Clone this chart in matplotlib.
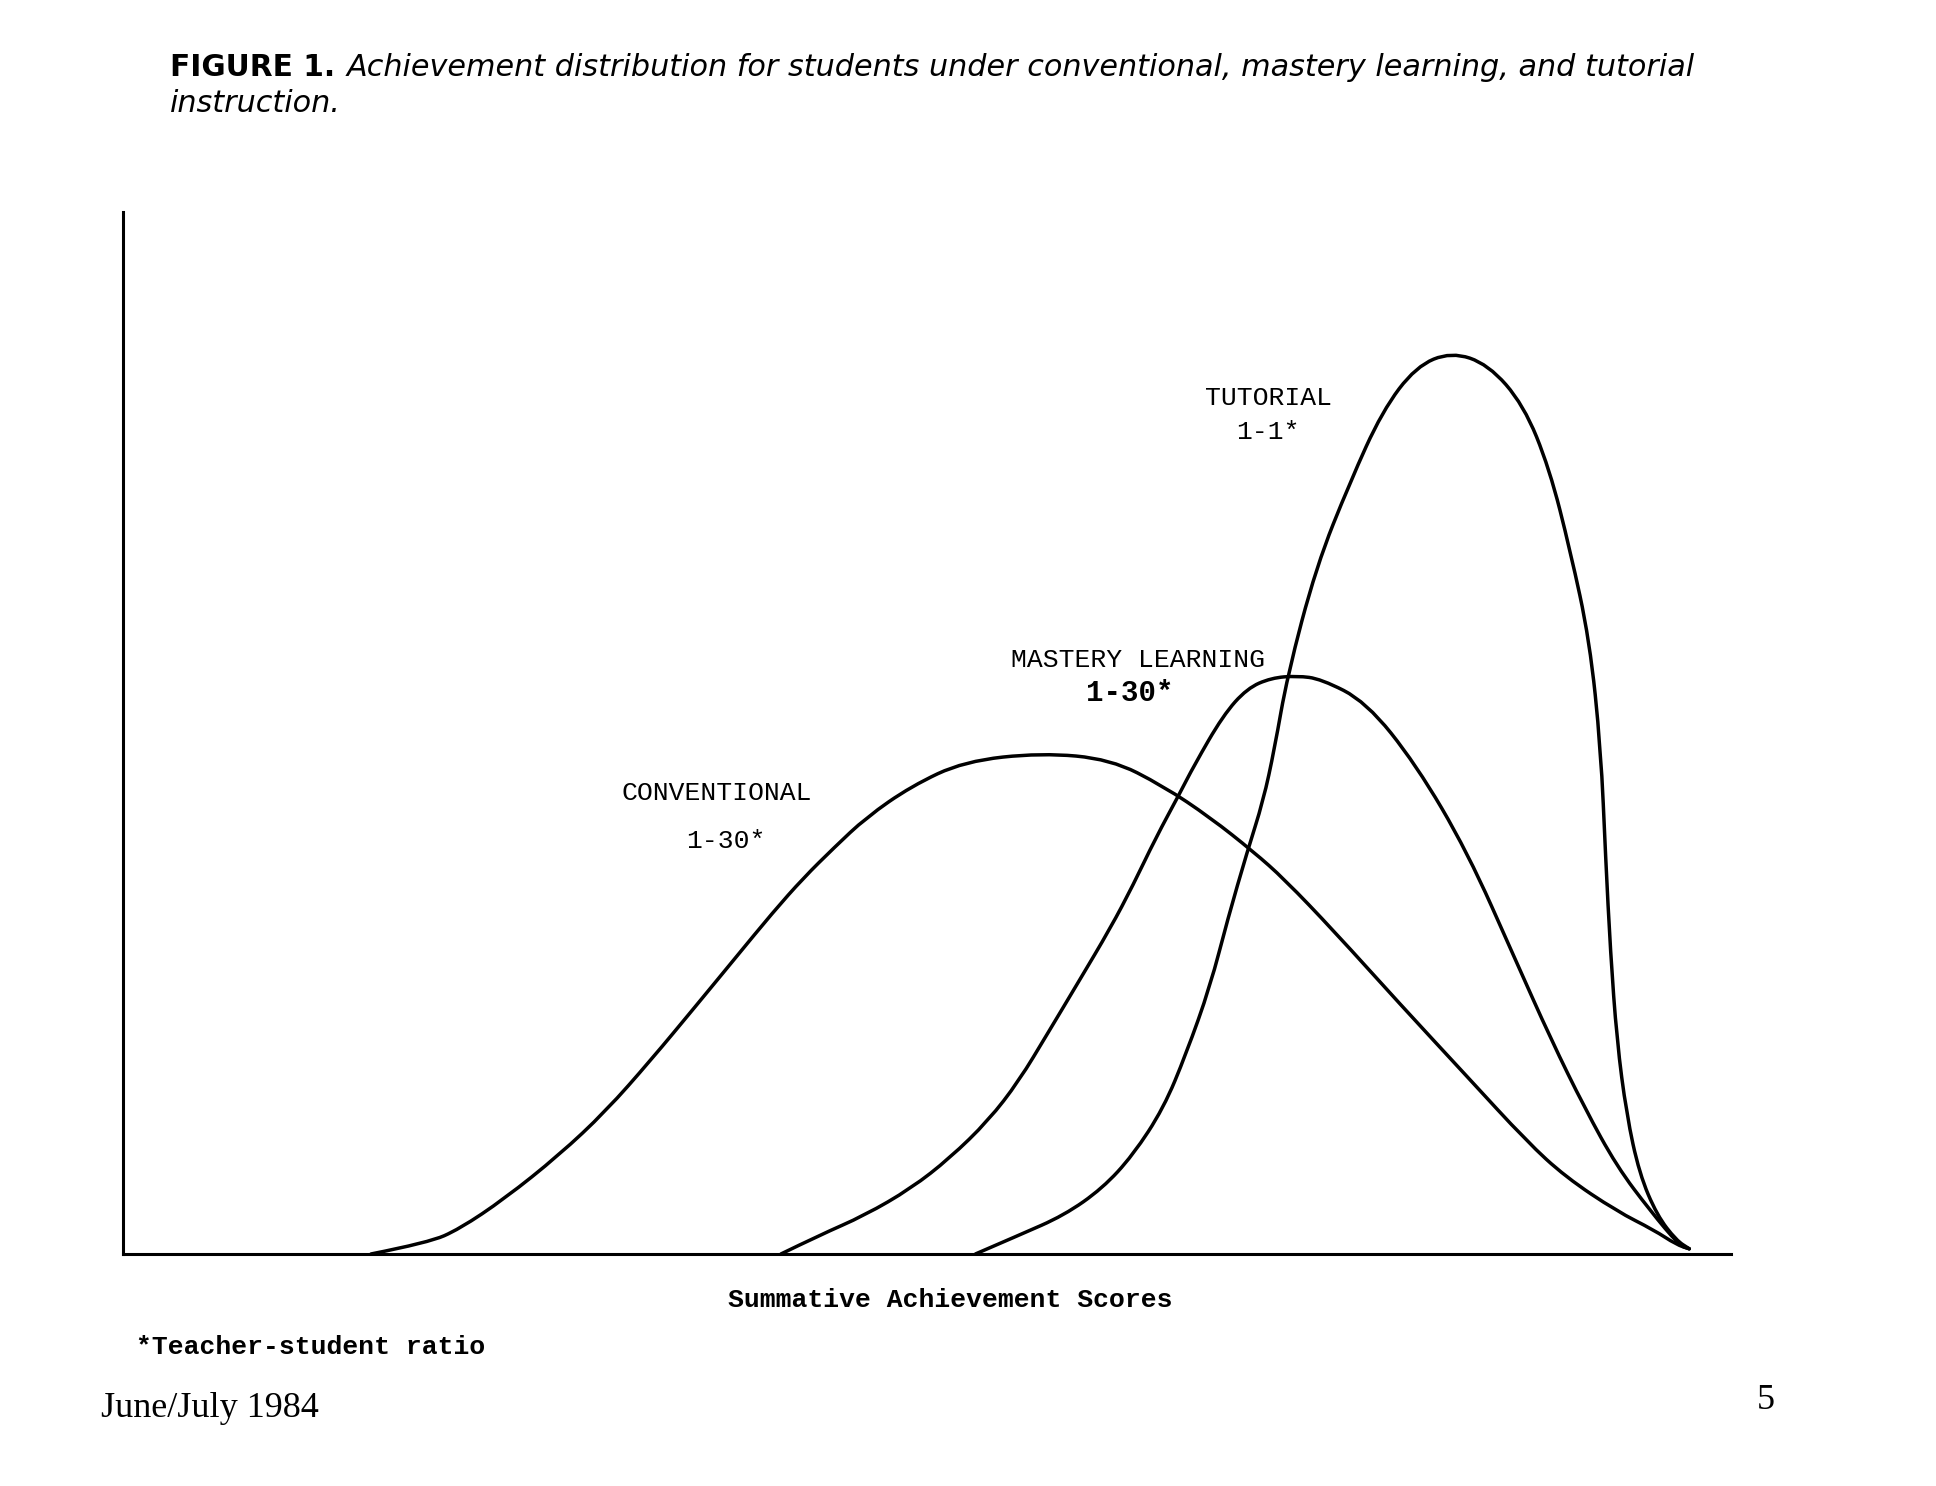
import numpy as np
import matplotlib.pyplot as plt
from matplotlib.path import Path
from matplotlib.patches import PathPatch

# score (0-100 along the axis) and relative frequency (0-100)
conv_x = [15.4, 19.0, 20.9, 23.7, 27.1, 30.0, 32.8, 35.6, 38.0, 40.4, 42.3, 44.2, 46.2,
          49.0, 52.3, 57.1, 61.4, 64.7, 67.6, 70.3, 72.2, 75.3, 79.4, 83.6, 87.3, 89.7,
          92.9, 95.2, 96.6, 97.4]
conv_y = [0.0, 1.1, 2.4, 5.3, 9.5, 13.7, 18.6, 23.8, 28.3, 32.8, 36.1, 39.0, 41.9,
          44.9, 47.3, 48.1, 47.5, 44.9, 41.9, 38.6, 36.0, 31.0, 24.0, 17.0, 10.8, 7.4,
          4.1, 2.3, 0.9, 0.5]

mastery_x = [40.9, 43.3, 46.1, 49.0, 51.4, 53.8, 55.7, 57.5, 59.4, 61.4, 62.8, 64.2,
             65.7, 66.6, 68.4, 69.9, 71.4, 73.0, 74.5, 77.3, 80.4, 83.6, 86.6, 88.8,
             90.9, 92.9, 95.0, 96.8, 97.4]
mastery_y = [0.0, 1.8, 3.7, 6.3, 9.2, 12.8, 16.6, 21.2, 26.1, 31.3, 35.4, 39.9,
             44.2, 46.9, 51.7, 54.3, 55.3, 55.5, 55.2, 53.0, 47.0, 38.6, 28.2, 20.6,
             14.0, 8.4, 4.1, 0.8, 0.5]

tutor_x = [53.0, 55.7, 58.5, 60.9, 62.8, 64.7, 66.1, 67.6, 68.7, 69.9, 70.9, 71.6,
           72.4, 74.2, 76.3, 78.3, 80.4, 82.6, 84.9, 87.1, 88.7, 90.0, 91.2, 91.9,
           92.2, 92.5, 92.9, 93.5, 94.3, 95.4, 96.6, 97.4]
tutor_y = [0.0, 1.8, 3.7, 6.3, 9.5, 14.0, 19.2, 25.7, 32.2, 38.6, 43.5, 48.5,
           55.5, 66.0, 74.1, 80.9, 85.2, 86.6, 85.4, 81.5, 75.4, 67.5, 58.9, 48.5,
           38.0, 29.0, 20.5, 13.4, 7.7, 3.7, 1.3, 0.5]

TYPE = "Liberation Mono"
HEAD = "DejaVu Sans"


def smooth_curve(ax, xs, ys, lw=2.5):
    # quadratic b-spline through the midpoints, so the hand-drawn look stays smooth
    pts = np.column_stack([xs, ys])
    verts = [pts[0]]
    codes = [Path.MOVETO]
    for i in range(1, len(pts) - 1):
        mid = (pts[i] + pts[i + 1]) / 2
        verts += [pts[i], mid]
        codes += [Path.CURVE3, Path.CURVE3]
    verts.append(pts[-1])
    codes.append(Path.LINETO)
    ax.add_patch(PathPatch(Path(verts, codes), fill=False, edgecolor="black",
                           linewidth=lw, joinstyle="round", capstyle="round"))


fig = plt.figure(figsize=(19.36, 14.86), dpi=100)
ax = fig.add_axes([100 / 1568, 1 - 1016 / 1204, 1302 / 1568, 844 / 1204])

for xs, ys in [(conv_x, conv_y), (mastery_x, mastery_y), (tutor_x, tutor_y)]:
    smooth_curve(ax, xs, ys)

ax.set_xlim(0, 100)
ax.set_ylim(0, 100)
ax.set_xticks([])
ax.set_yticks([])
for side in ["top", "right"]:
    ax.spines[side].set_visible(False)
for side in ["left", "bottom"]:
    ax.spines[side].set_linewidth(2.2)

ax.text(71.2, 82.2, "TUTORIAL", family=TYPE, fontsize=19, ha="center", va="center")
ax.text(71.2, 78.9, "1-1*", family=TYPE, fontsize=19, ha="center", va="center")
ax.text(63.1, 57.0, "MASTERY LEARNING", family=TYPE, fontsize=19, ha="center", va="center")
ax.text(62.6, 53.9, "1-30*", family=TYPE, fontsize=21, fontweight="bold",
        ha="center", va="center")
ax.text(36.9, 44.3, "CONVENTIONAL", family=TYPE, fontsize=19, ha="center", va="center")
ax.text(37.5, 39.6, "1-30*", family=TYPE, fontsize=19, ha="center", va="center")

fig.text(138 / 1568, 1 - 55 / 1204, "FIGURE 1.", family=HEAD,
         fontweight="bold", fontsize=21.3, va="center")
fig.text(281 / 1568, 1 - 55 / 1204,
         "Achievement distribution for students under conventional, mastery learning, and tutorial",
         family=HEAD, style="italic", fontsize=21.8, va="center")
fig.text(138 / 1568, 1 - 84 / 1204, "instruction.", family=HEAD,
         style="italic", fontsize=21.8, va="center")

fig.text(770 / 1568, 1 - 1053 / 1204, "Summative Achievement Scores", family=TYPE,
         fontsize=19, fontweight="bold", ha="center", va="center")
fig.text(110 / 1568, 1 - 1091 / 1204, "*Teacher-student ratio", family=TYPE,
         fontsize=19, fontweight="bold", va="center")
fig.text(82 / 1568, 1 - 1141 / 1204, "June/July 1984", family="Liberation Serif",
         fontsize=26, va="center")
fig.text(1430 / 1568, 1 - 1135 / 1204, "5", family="Liberation Serif",
         fontsize=26, ha="center", va="center")

fig.savefig("out.png", dpi=100, facecolor="white")
